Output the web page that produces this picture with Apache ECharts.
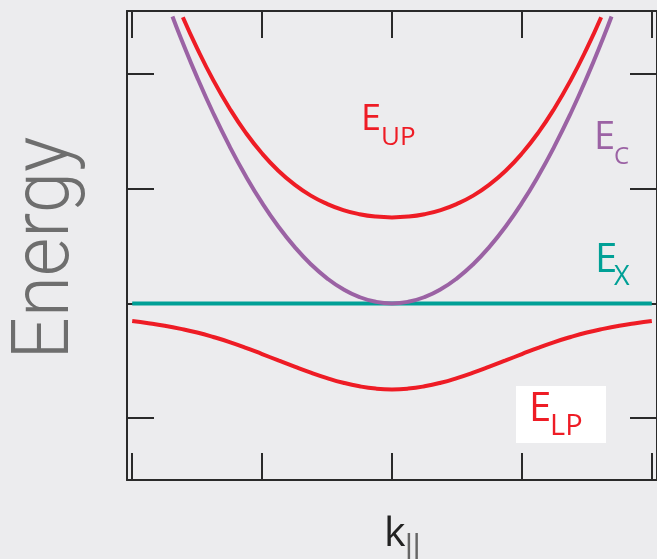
<!DOCTYPE html>
<html>
<head>
<meta charset="utf-8">
<script src="https://cdn.jsdelivr.net/npm/echarts@6/dist/echarts.min.js"></script>
<style>html,body{margin:0;padding:0;background:#ececee;}#c{width:657px;height:559px;}</style>
</head>
<body>
<div id="c"></div>
<script>
// ---- data ----
const cavityK = [-1.69,-1.625,-1.5,-1.375,-1.25,-1.125,-1,-0.875,-0.75,-0.625,-0.5,-0.375,-0.25,-0.125,0,0.125,0.25,0.375,0.5,0.625,0.75,0.875,1,1.125,1.25,1.375,1.5,1.625,1.69];
const cavityE = [2.502,2.313,1.971,1.656,1.369,1.109,0.876,0.671,0.493,0.342,0.219,0.123,0.055,0.014,0,0.014,0.055,0.123,0.219,0.342,0.493,0.671,0.876,1.109,1.369,1.656,1.971,2.313,2.502];
const upperK = [-1.61,-1.5,-1.375,-1.25,-1.125,-1,-0.875,-0.75,-0.625,-0.5,-0.375,-0.25,-0.125,0,0.125,0.25,0.375,0.5,0.625,0.75,0.875,1,1.125,1.25,1.375,1.5,1.61];
const upperE = [2.496,2.224,1.945,1.700,1.487,1.307,1.157,1.036,0.940,0.868,0.814,0.778,0.757,0.750,0.757,0.778,0.814,0.868,0.940,1.036,1.157,1.307,1.487,1.700,1.945,2.224,2.496];
const lowerK = [-2,-1.875,-1.75,-1.625,-1.5,-1.375,-1.25,-1.125,-1,-0.875,-0.75,-0.625,-0.5,-0.375,-0.25,-0.125,0,0.125,0.25,0.375,0.5,0.625,0.75,0.875,1,1.125,1.25,1.375,1.5,1.625,1.75,1.875,2];
const lowerE = [-0.154,-0.173,-0.195,-0.222,-0.254,-0.293,-0.337,-0.387,-0.442,-0.497,-0.551,-0.603,-0.651,-0.692,-0.723,-0.743,-0.750,-0.743,-0.723,-0.692,-0.651,-0.603,-0.551,-0.497,-0.442,-0.387,-0.337,-0.293,-0.254,-0.222,-0.195,-0.173,-0.154];
const excitonK = [-2, 2];
const excitonE = [0, 0];
const xTicks = [-2,-1,0,1,2];
const yTicks = [-1,0,1,2];

const zip = (a, b) => a.map((v, i) => [v, b[i]]);
const RED = '#ee1c25', PURPLE = '#9b62a4', TEAL = '#00a096', AX = '#2a2a2a';

function xAx(pos){
  return {type:'value', position:pos, min:-2.04, max:2.04,
    axisLine:{show:true, onZero:false, lineStyle:{color:AX, width:2}},
    axisTick:{show:true, inside:true, length:27, customValues:xTicks, lineStyle:{color:AX, width:2}},
    axisLabel:{show:false}, splitLine:{show:false}};
}
function yAx(pos){
  return {type:'value', position:pos, min:-1.54, max:2.55,
    axisLine:{show:true, onZero:false, lineStyle:{color:AX, width:2}},
    axisTick:{show:true, inside:true, length:27, customValues:yTicks, lineStyle:{color:AX, width:2}},
    axisLabel:{show:false}, splitLine:{show:false}};
}
const line = (data, color) => ({type:'line', data, showSymbol:false, symbol:'none', smooth:true,
  lineStyle:{color, width:4}, itemStyle:{color}, xAxisIndex:0, yAxisIndex:0, silent:true, animation:false});

const FONT = '"Open Sans", "Noto Sans", sans-serif';
function txt(text, x, y, size, color, extra){
  return Object.assign({type:'text', style:{text, x, y, font: size + 'px ' + FONT, fill:color, textAlign:'left', textVerticalAlign:'middle'}}, extra||{});
}

const chart = echarts.init(document.getElementById('c'), null, {renderer:'canvas'});
chart.setOption({
  backgroundColor:'#ececee',
  animation:false,
  grid:{left:127, top:11, width:532, height:469},
  xAxis:[xAx('bottom'), xAx('top')],
  yAxis:[yAx('left'), yAx('right')],
  series:[
    line(zip(excitonK, excitonE), TEAL),
    line(zip(cavityK, cavityE), PURPLE),
    line(zip(upperK, upperE), RED),
    line(zip(lowerK, lowerE), RED)
  ],
  graphic:[
    {type:'rect', shape:{x:516, y:386, width:90, height:57}, style:{fill:'#ffffff'}, z:10},
    txt('E', 361, 120, 36, RED),
    txt('UP', 381, 137.5, 26, RED),
    txt('E', 594, 138.5, 38, PURPLE),
    txt('C', 614, 157, 24, PURPLE),
    txt('E', 595, 260.5, 40, TEAL),
    txt('X', 614, 277.5, 27, TEAL),
    Object.assign(txt('E', 529, 410, 40, RED), {z:11}),
    Object.assign(txt('LP', 550, 426.5, 29, RED), {z:11}),
    {type:'text', x:48, y:248, rotation:Math.PI/2, scaleX:0.93,
      style:{text:'Energy', font:'300 80px Roboto, "Open Sans", sans-serif', fill:'#6e6e6e', textAlign:'center', textVerticalAlign:'middle'}},
    txt('k', 384, 534, 41, '#222222'),
    {type:'text', style:{text:'||', x:405, y:547, font:'30px "Liberation Sans", Arial, sans-serif', fill:'#666666', textAlign:'left', textVerticalAlign:'middle'}}
  ]
});
</script>
</body>
</html>
